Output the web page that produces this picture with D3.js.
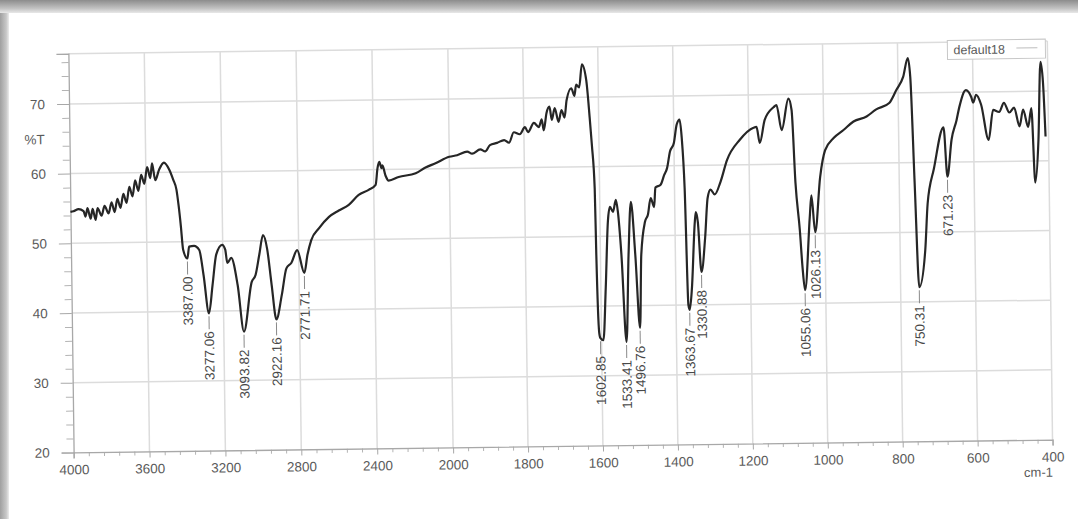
<!DOCTYPE html>
<html>
<head>
<meta charset="utf-8">
<script src="https://cdn.jsdelivr.net/npm/d3@7"></script>
<style>
  body { margin: 0; background: #fff; }
  svg { display: block; font-family: "Liberation Sans", Arial, sans-serif; }
</style>
</head>
<body>
<svg id="chart" width="1078" height="519"></svg>
<script>
// spectrum (cm-1, %T)
const wavenumber = [
  4000, 3984, 3957, 3931, 3921, 3910, 3894, 3883, 3868, 3857, 3836, 3820, 3799, 3783, 3767, 3752,
  3736, 3720, 3704, 3688, 3672, 3657, 3641, 3625, 3609, 3593, 3577, 3567, 3551, 3530, 3504, 3477,
  3456, 3440, 3430, 3419, 3409, 3387.00, 3377, 3351, 3324, 3303, 3277.06, 3256, 3235, 3203, 3187,
  3177, 3156, 3124, 3093.82, 3050, 3029, 3008, 2987, 2966, 2945, 2922.16, 2892, 2866, 2839, 2808,
  2771.71, 2754, 2733, 2691, 2638, 2586, 2533, 2480, 2427, 2390, 2379, 2369, 2358, 2353, 2337,
  2321, 2268, 2178, 2126, 2073, 2000, 1979, 1952, 1939, 1917, 1904, 1891, 1872, 1853, 1840, 1827,
  1811, 1797, 1789, 1773, 1760, 1752, 1747, 1739, 1731, 1725, 1717, 1707, 1699, 1691, 1685, 1672,
  1664, 1659, 1651, 1643, 1632, 1624, 1619, 1613, 1611, 1606, 1602.85, 1595, 1587, 1579, 1573,
  1565, 1557, 1552, 1544, 1533.41, 1525, 1517, 1507, 1496.76, 1491, 1480, 1472, 1464, 1455, 1451,
  1437, 1427, 1419, 1411, 1400, 1392, 1384, 1379, 1373, 1367, 1363.67, 1357, 1347, 1344, 1339,
  1330.88, 1320, 1312, 1304, 1293, 1277, 1259, 1224, 1187, 1179, 1171, 1157, 1133, 1125, 1112,
  1093, 1085, 1077, 1067, 1061, 1055.06, 1040, 1035, 1026.13, 1011, 997, 973, 947, 920, 885, 859,
  824, 805, 786, 773, 767, 759, 750.31, 733, 725, 707, 680, 671.23, 659, 645, 637, 619, 605, 600,
  592, 579, 560, 547, 531, 518, 504, 491, 477, 467, 454, 445, 437, 427, 419, 413, 408
];
const transmittance = [
  54.5, 54.6, 54.9, 54.6, 53.8, 55.0, 53.5, 54.9, 53.3, 55.0, 53.9, 55.3, 54.2, 55.8, 54.4, 56.3,
  55.0, 57.0, 55.7, 58.0, 56.6, 58.9, 57.4, 59.7, 58.4, 60.8, 59.2, 61.3, 58.9, 60.4, 61.4, 60.4,
  58.9, 57.5, 55.3, 52.2, 48.9, 47.6, 49.3, 49.4, 48.8, 45.2, 39.7, 43.8, 48.1, 49.5, 48.8,
  46.9, 47.6, 43.7, 37.0, 44.1, 45.1, 48.0, 50.8, 48.8, 43.7, 38.7, 42.2, 46.0, 46.8, 48.6,
  45.3, 47.9, 50.0, 51.7, 53.3, 54.2, 55.0, 56.4, 57.1, 57.8, 60.2, 61.1, 60.2, 60.6, 59.1,
  58.4, 58.9, 59.4, 60.2, 60.8, 61.7, 61.9, 62.4, 62.1, 62.7, 62.4, 63.3, 63.6, 64.0, 63.6, 65.1,
  64.8, 65.8, 65.1, 66.4, 65.8, 66.9, 65.3, 67.8, 68.7, 66.8, 68.5, 66.5, 68.2, 67.1, 69.6, 71.3,
  70.2, 71.8, 71.4, 74.7, 72.5, 67.1, 63.1, 56.9, 47.3, 36.2, 35.4, 35.1, 42.6, 52.1, 54.2,
  53.5, 55.2, 53.5, 47.3, 34.8, 47.3, 54.9, 47.3, 36.8, 47.3, 52.0, 53.0, 55.4, 54.1, 56.9,
  57.3, 58.7, 59.7, 62.0, 63.3, 65.9, 66.6, 64.0, 56.8, 40.0, 39.3, 42.4, 51.9, 53.3, 51.9,
  44.7, 49.6, 55.3, 56.5, 55.8, 57.6, 60.7, 63.6, 65.3, 65.4, 63.1, 66.4, 68.2, 68.5, 64.9,
  69.4, 67.8, 57.3, 50.5, 45.1, 41.9, 52.4, 55.5, 50.2, 58.1, 61.9, 63.7, 64.8, 66.0, 66.7, 67.7,
  68.6, 70.4, 72.3, 75.0, 72.3, 57.1, 42.1, 47.4, 54.1, 59.1, 65.0, 57.9, 63.2, 66.0, 67.9, 70.3, 69.3, 68.5,
  69.6, 68.2, 63.1, 67.4, 67.1, 68.4, 67.0, 67.7, 65.0, 67.4, 64.9, 67.6, 56.9, 63.1, 74.2, 71.2, 63.5
];

const peakWn = [3387.00, 3277.06, 3093.82, 2922.16, 2771.71, 1602.85, 1533.41, 1496.76,
                1363.67, 1330.88, 1055.06, 1026.13, 750.31, 671.23];
const peakText = ["3387.00", "3277.06", "3093.82", "2922.16", "2771.71", "1602.85", "1533.41", "1496.76",
                  "1363.67", "1330.88", "1055.06", "1026.13", "750.31", "671.23"];

const xTicks = [4000, 3600, 3200, 2800, 2400, 2000, 1800, 1600, 1400, 1200, 1000, 800, 600, 400];
const yTicks = [20, 30, 40, 50, 60, 70];
const seriesName = "default18";

const W = 1078, H = 519;
const svg = d3.select("#chart");

// scanned page edge
const defs = svg.append("defs");
const gTop = defs.append("linearGradient").attr("id", "edgeTop").attr("x1", 0).attr("y1", 0).attr("x2", 0).attr("y2", 1);
gTop.append("stop").attr("offset", "0%").attr("stop-color", "#8c8c8c");
gTop.append("stop").attr("offset", "65%").attr("stop-color", "#c2c2c2");
gTop.append("stop").attr("offset", "100%").attr("stop-color", "#e8e8e8");
const gLeft = defs.append("linearGradient").attr("id", "edgeLeft").attr("x1", 0).attr("y1", 0).attr("x2", 1).attr("y2", 0);
gLeft.append("stop").attr("offset", "0%").attr("stop-color", "#a0a0a0");
gLeft.append("stop").attr("offset", "70%").attr("stop-color", "#c8c8c8");
gLeft.append("stop").attr("offset", "100%").attr("stop-color", "#ececec");

svg.append("rect").attr("width", W).attr("height", H).attr("fill", "#fff");
svg.append("rect").attr("x", 0).attr("y", 0).attr("width", 9).attr("height", H).attr("fill", "url(#edgeLeft)");
svg.append("rect").attr("x", 0).attr("y", 0).attr("width", W).attr("height", 13).attr("fill", "url(#edgeTop)");

// the sheet is scanned slightly tilted
const g = svg.append("g").attr("transform", "rotate(-0.75,560,250)");

const x = d3.scaleLinear().domain([4000, 2000, 400]).range([71, 450.5, 1050]);
const y = d3.scaleLinear().domain([20, 77.2]).range([446, 47.3]);
const yTop = 77.2;

// grid
g.append("g").selectAll("line").data(xTicks.slice(1)).join("line")
  .attr("x1", d => x(d)).attr("x2", d => x(d)).attr("y1", y(yTop)).attr("y2", y(20))
  .attr("stroke", "#dcdcdc").attr("stroke-width", 1.5);
g.append("g").selectAll("line").data(yTicks.slice(1).concat([yTop])).join("line")
  .attr("x1", x(4000)).attr("x2", x(400)).attr("y1", d => y(d)).attr("y2", d => y(d))
  .attr("stroke", "#dcdcdc").attr("stroke-width", 1.5);

function styleAxis(sel) {
  sel.select(".domain").attr("stroke", "#a8a8a8").attr("stroke-width", 1.3);
  sel.selectAll(".tick line").attr("stroke", "#a8a8a8");
  sel.selectAll(".tick text").attr("fill", "#5a5a5a").attr("font-size", 13.5)
    .attr("font-family", "'Liberation Sans', Arial, sans-serif");
}

// y axis
const yMinor = d3.range(22, 77, 2).filter(v => v % 10 !== 0);
g.append("g").attr("transform", `translate(${x(4000)},0)`)
  .call(d3.axisLeft(y).tickValues(yMinor).tickSize(7).tickFormat(""))
  .call(s => { s.select(".domain").remove(); s.selectAll(".tick line").attr("stroke", "#b4b4b4"); });
g.append("g").attr("transform", `translate(${x(4000)},0)`)
  .call(d3.axisLeft(y).tickValues(yTicks).tickSize(12).tickPadding(12))
  .call(styleAxis);

// x axis
const xMinor = d3.range(3920, 2000, -80).concat(d3.range(1960, 400, -40)).filter(v => !xTicks.includes(v));
g.append("g").attr("transform", `translate(0,${y(20)})`)
  .call(d3.axisBottom(x).tickValues(xMinor).tickSize(4).tickFormat(""))
  .call(s => { s.select(".domain").remove(); s.selectAll(".tick line").attr("stroke", "#b4b4b4"); });
g.append("g").attr("transform", `translate(0,${y(20)})`)
  .call(d3.axisBottom(x).tickValues(xTicks).tickSize(6).tickPadding(6.4).tickFormat(d3.format("d")))
  .call(styleAxis);

g.append("text").attr("x", 36).attr("y", 137.5).attr("text-anchor", "middle")
  .attr("font-size", 13.5).attr("fill", "#5a5a5a").text("%T");
g.append("text").attr("x", 1050).attr("y", 483).attr("text-anchor", "end")
  .attr("font-size", 13).attr("fill", "#5a5a5a").text("cm-1");

// spectrum
const pts = wavenumber.map((w, i) => [w, transmittance[i]]);
g.append("path").datum(pts)
  .attr("fill", "none").attr("stroke", "#262626").attr("stroke-width", 2.2).attr("stroke-linejoin", "round")
  .attr("d", d3.line().x(d => x(d[0])).y(d => y(d[1])).curve(d3.curveMonotoneX));

// peak picks
peakWn.forEach((w, i) => {
  const j = d3.minIndex(wavenumber, v => Math.abs(v - w));
  const px = x(w), py = y(transmittance[j]);
  g.append("line").attr("x1", px).attr("x2", px).attr("y1", py + 3).attr("y2", py + 16)
    .attr("stroke", "#8a8a8a").attr("stroke-width", 1);
  g.append("text").attr("transform", `translate(${px + 4.7},${py + 18}) rotate(-90)`)
    .attr("text-anchor", "end").attr("font-size", 13.5).attr("fill", "#484848").text(peakText[i]);
});

// legend
const lg = g.append("g");
lg.append("rect").attr("x", 950).attr("y", 45.5).attr("width", 98).attr("height", 19)
  .attr("fill", "#fff").attr("stroke", "#c8c8c8");
lg.append("text").attr("x", 956).attr("y", 59.5).attr("font-size", 12.5).attr("fill", "#5a5a5a").text(seriesName);
lg.append("line").attr("x1", 1019).attr("x2", 1040).attr("y1", 54).attr("y2", 54)
  .attr("stroke", "#bdbdbd").attr("stroke-width", 1.2);
</script>
</body>
</html>
